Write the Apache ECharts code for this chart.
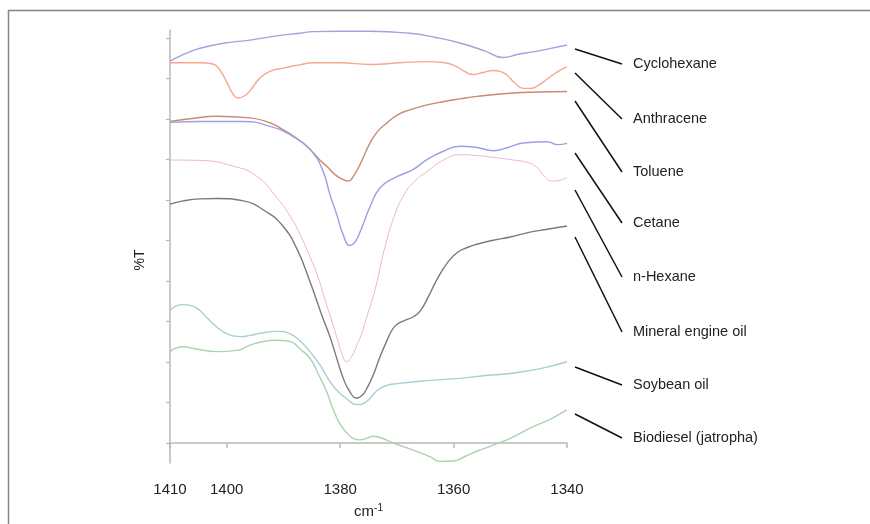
<!DOCTYPE html>
<html>
<head>
<meta charset="utf-8">
<script src="https://cdn.jsdelivr.net/npm/echarts@6/dist/echarts.min.js"></script>
<style>
  html, body { margin: 0; padding: 0; background: #fff; }
  #chart { width: 870px; height: 524px; }
</style>
</head>
<body>
<div id="chart"></div>
<script>
// wavenumber (cm-1) / relative %T
var cyclohexane = [[1410, 9.43], [1407.4, 9.61], [1404.7, 9.75], [1400.3, 9.88], [1395.9, 9.95], [1391.5, 10.05], [1387.1, 10.12], [1384.8, 10.16], [1380, 10.17], [1374.7, 10.17], [1367.7, 10.12], [1363.3, 10.02], [1358.9, 9.88], [1354.4, 9.68], [1351.3, 9.52], [1348.6, 9.60], [1346, 9.66], [1343, 9.74], [1340, 9.83]];
var anthracene = [[1410, 9.39], [1404.7, 9.39], [1402.4, 9.36], [1401.2, 9.21], [1399.9, 8.89], [1398.9, 8.62], [1398.0, 8.52], [1396.9, 8.57], [1395.9, 8.70], [1394.1, 9.02], [1392.4, 9.18], [1390.1, 9.26], [1387.1, 9.34], [1384.8, 9.39], [1380, 9.39], [1374.7, 9.35], [1369.4, 9.39], [1364.7, 9.42], [1361.5, 9.39], [1359.4, 9.29], [1358.0, 9.17], [1356.6, 9.10], [1354.8, 9.15], [1353.0, 9.20], [1351.8, 9.18], [1350.6, 9.09], [1349.2, 8.89], [1347.7, 8.76], [1346.5, 8.76], [1345.3, 8.81], [1343.0, 9.04], [1341.2, 9.21], [1340, 9.29]];
var toluene = [[1410, 7.94], [1406.5, 8.01], [1401.7, 8.07], [1395.9, 8.03], [1392.4, 7.91], [1390.1, 7.74], [1387.6, 7.52], [1385.3, 7.25], [1383.5, 6.98], [1382.3, 6.83], [1380.9, 6.63], [1379.5, 6.51], [1378.6, 6.47], [1377.7, 6.58], [1376.5, 6.88], [1374.7, 7.42], [1373.3, 7.71], [1371.7, 7.91], [1369.8, 8.11], [1367.7, 8.23], [1365.0, 8.34], [1361.9, 8.43], [1358.9, 8.50], [1355.9, 8.56], [1350.0, 8.64], [1344.7, 8.67], [1340, 8.68]];
var cetane = [[1410, 7.92], [1404.7, 7.94], [1397.1, 7.94], [1392.4, 7.82], [1388.3, 7.57], [1384.8, 7.17], [1383.0, 6.71], [1381.8, 6.14], [1380.5, 5.60], [1379.5, 5.16], [1378.3, 4.88], [1377.4, 4.96], [1376.5, 5.21], [1375.6, 5.53], [1374.7, 5.85], [1373.0, 6.30], [1370.7, 6.53], [1367.1, 6.76], [1364.7, 7.00], [1361.9, 7.20], [1358.9, 7.33], [1355.9, 7.30], [1353.0, 7.22], [1350.4, 7.30], [1347.7, 7.41], [1343.5, 7.44], [1341.7, 7.37], [1340, 7.40]];
var nHexane = [[1410, 6.99], [1404.7, 6.98], [1398.9, 6.84], [1394.7, 6.59], [1391.1, 6.05], [1388.8, 5.60], [1387.1, 5.16], [1385.3, 4.59], [1384.1, 4.18], [1382.7, 3.56], [1381.6, 3.07], [1380.5, 2.58], [1379.7, 2.21], [1378.8, 2.01], [1377.9, 2.16], [1377.0, 2.43], [1376.1, 2.75], [1375.3, 3.12], [1373.8, 3.81], [1372.1, 4.84], [1370.3, 5.67], [1368.9, 6.09], [1367.1, 6.44], [1364.7, 6.70], [1361.9, 6.98], [1358.9, 7.12], [1355.9, 7.10], [1352.7, 7.05], [1350.0, 7.00], [1347.0, 6.93], [1345.3, 6.81], [1344.2, 6.62], [1342.5, 6.47], [1341.2, 6.49], [1340, 6.56]];
var mineralOil = [[1410, 5.90], [1407.7, 5.98], [1404.7, 6.03], [1401.7, 6.04], [1397.1, 5.98], [1392.9, 5.70], [1390.1, 5.36], [1387.6, 4.79], [1385.3, 3.98], [1383.0, 3.07], [1381.8, 2.63], [1380.5, 2.05], [1379.5, 1.62], [1378.3, 1.27], [1377.1, 1.11], [1376.1, 1.18], [1375.3, 1.35], [1374.2, 1.67], [1373.0, 2.12], [1371.7, 2.55], [1370.8, 2.80], [1370.0, 2.93], [1368.6, 3.03], [1367.1, 3.12], [1365.9, 3.26], [1364.5, 3.60], [1362.9, 4.05], [1361.1, 4.45], [1359.4, 4.70], [1357.6, 4.83], [1355.9, 4.91], [1353.0, 5.01], [1350.0, 5.09], [1346.5, 5.21], [1343.5, 5.28], [1340, 5.36]];
var soybeanOil = [[1410, 3.27], [1408.9, 3.39], [1407.7, 3.42], [1406.1, 3.39], [1404.7, 3.27], [1403.3, 3.07], [1401.7, 2.86], [1400.3, 2.72], [1398.9, 2.65], [1397.4, 2.63], [1395.9, 2.66], [1393.8, 2.72], [1391.1, 2.76], [1388.8, 2.70], [1387.1, 2.53], [1385.3, 2.26], [1383.5, 1.92], [1381.8, 1.52], [1380.4, 1.28], [1378.8, 1.09], [1377.1, 0.95], [1375.3, 1.03], [1373.5, 1.30], [1371.9, 1.42], [1370.0, 1.47], [1364.1, 1.55], [1358.9, 1.60], [1354.4, 1.67], [1350.0, 1.72], [1344.7, 1.84], [1340, 2.01]];
var biodiesel = [[1410, 2.26], [1408.9, 2.35], [1407.7, 2.38], [1405.6, 2.33], [1401.7, 2.26], [1398.2, 2.29], [1395.9, 2.42], [1393.6, 2.51], [1391.2, 2.54], [1388.8, 2.51], [1387.1, 2.33], [1385.3, 2.09], [1383.9, 1.72], [1382.4, 1.28], [1381.3, 0.86], [1380.0, 0.47], [1378.8, 0.25], [1377.7, 0.12], [1376.5, 0.08], [1375.3, 0.12], [1374.2, 0.17], [1373.0, 0.14], [1370.7, 0.01], [1368.6, -0.10], [1366.4, -0.21], [1364.1, -0.34], [1362.4, -0.45], [1360.1, -0.44], [1358.0, -0.33], [1355.9, -0.20], [1353.0, -0.05], [1350.0, 0.12], [1346.5, 0.37], [1343.0, 0.59], [1340, 0.82]];

var seriesNames = ['Cyclohexane', 'Anthracene', 'Toluene', 'Cetane', 'n-Hexane', 'Mineral engine oil', 'Soybean oil', 'Biodiesel (jatropha)'];
var seriesData = [cyclohexane, anthracene, toluene, cetane, nHexane, mineralOil, soybeanOil, biodiesel];
var colors = ['#a3a3dc', '#f4a88e', '#c98a6e', '#9e9ee6', '#ecb4cc', '#7a7a7a', '#a6cfd3', '#acd3ac'];

var xTicks = [1410, 1400, 1380, 1360, 1340];
var yTicks = [0, 1, 2, 3, 4, 5, 6, 7, 8, 9, 10];

// label placement on the right (pixels)
var labelY = [64, 119, 172, 223, 277, 332, 385, 438];
var leaderStartY = [49, 73, 101, 153, 190, 237, 367, 414];

var chart = echarts.init(document.getElementById('chart'));

var series = [];
for (var i = 0; i < seriesData.length; i++) {
    series.push({
        name: seriesNames[i],
        type: 'line',
        data: seriesData[i],
        smooth: 0.5,
        symbol: 'none',
        lineStyle: {color: colors[i], width: i == 4 ? 1 : 1.4}
    });
}

var graphics = [
    {type: 'line', shape: {x1: 8, y1: 10.5, x2: 870, y2: 10.5}, style: {stroke: '#858585', lineWidth: 1.5}},
    {type: 'line', shape: {x1: 8.5, y1: 10, x2: 8.5, y2: 524}, style: {stroke: '#858585', lineWidth: 1.5}},
    {type: 'text', x: 140, y: 260, rotation: Math.PI / 2,
        style: {text: '%T', font: '14px "Liberation Sans", Arial, sans-serif', fill: '#222', align: 'center', verticalAlign: 'middle'}}
];
for (var j = 0; j < seriesNames.length; j++) {
    graphics.push({type: 'line', shape: {x1: 575, y1: leaderStartY[j], x2: 622, y2: labelY[j]},
        style: {stroke: '#111', lineWidth: 1.5}});
    graphics.push({type: 'text', x: 633, y: labelY[j],
        style: {text: seriesNames[j], font: '14.5px "Liberation Sans", Arial, sans-serif', fill: '#222', verticalAlign: 'middle'}});
}

var option = {
    animation: false,
    grid: {left: 170, right: 303, top: 30, bottom: 59},
    xAxis: {
        type: 'value',
        min: 1340,
        max: 1410,
        inverse: true,
        name: '{a|cm}{b|-1}',
        nameLocation: 'middle',
        nameGap: 40,
        nameTextStyle: {
            rich: {
                a: {fontSize: 15, fontFamily: 'Liberation Sans', color: '#222', verticalAlign: 'bottom'},
                b: {fontSize: 10, fontFamily: 'Liberation Sans', color: '#222', verticalAlign: 'top', padding: [0, 0, 6, 0]}
            }
        },
        splitLine: {show: false},
        axisLine: {lineStyle: {color: '#b8b8b8', width: 1.5}},
        axisTick: {length: 5, customValues: xTicks, lineStyle: {color: '#b8b8b8', width: 1.5}},
        axisLabel: {
            customValues: xTicks, margin: 19, fontSize: 15, fontFamily: 'Liberation Sans', color: '#222',
            formatter: function (v) { return String(v); }
        }
    },
    yAxis: {
        type: 'value',
        min: -0.49,
        max: 10.2,
        splitLine: {show: false},
        axisLine: {show: true, lineStyle: {color: '#b8b8b8', width: 1.5}},
        axisTick: {show: true, length: 4, customValues: yTicks, lineStyle: {color: '#b8b8b8', width: 1.2}},
        axisLabel: {show: false}
    },
    graphic: graphics,
    series: series
};

chart.setOption(option);
</script>
</body>
</html>
